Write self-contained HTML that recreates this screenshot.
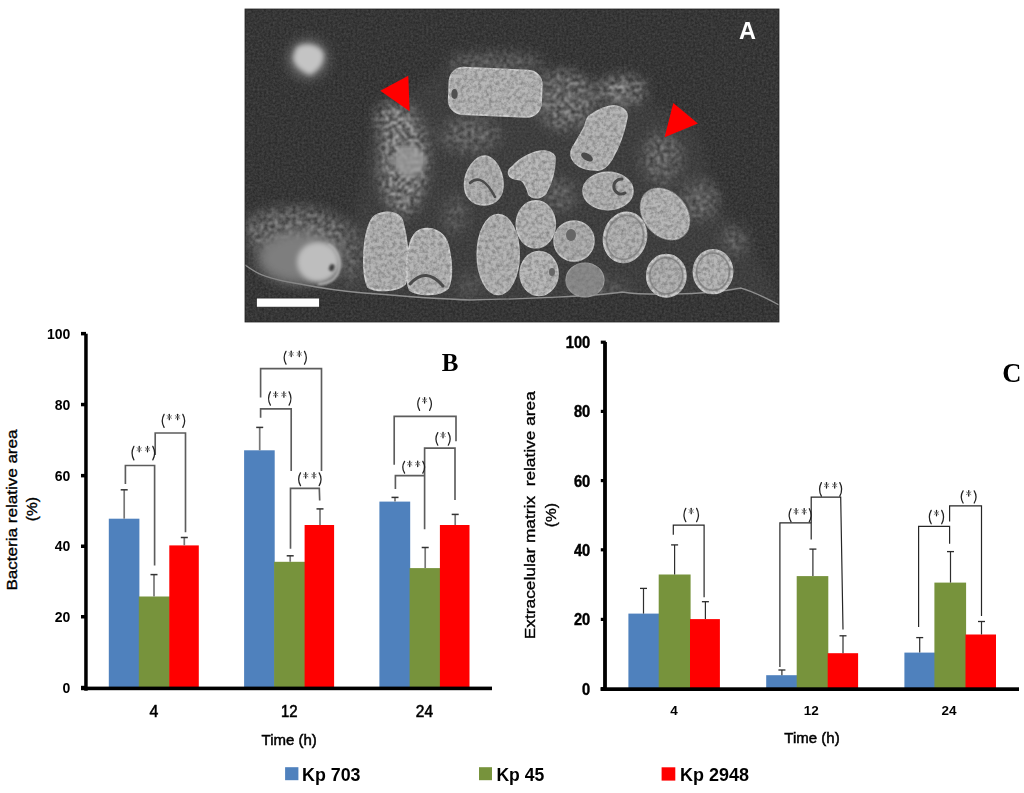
<!DOCTYPE html>
<html><head><meta charset="utf-8"><title>Figure</title><style>
html,body{margin:0;padding:0;background:#fff;width:1024px;height:793px;overflow:hidden}
svg{display:block}
text{font-family:"Liberation Sans",sans-serif;fill:#000}
.tl{font-size:14px;font-weight:bold}
.tlc{font-size:16.5px;font-weight:bold;stroke:#000;stroke-width:0.45px}
.xl{font-size:15px;font-weight:normal;stroke:#000;stroke-width:0.5px}
.xl2{font-size:15.8px;font-weight:normal;stroke:#000;stroke-width:0.55px}
.xlc{font-size:13.5px;font-weight:bold}
.yt{font-size:15.5px;font-weight:normal;stroke:#000;stroke-width:0.35px}
.sig{font-size:15px;font-weight:normal;fill:#333}
.pl{font-family:"Liberation Serif",serif;font-size:25px;font-weight:bold}
.pl2{font-family:"Liberation Serif",serif;font-size:26.5px;font-weight:bold}
.lg{font-size:18px;font-weight:bold}
</style></head>
<body>
<svg width="1024" height="793" viewBox="0 0 1024 793">
<defs>
<filter id="blur1" x="-20%" y="-20%" width="140%" height="140%"><feGaussianBlur stdDeviation="1.2"/></filter>
<filter id="blur3" x="-50%" y="-50%" width="200%" height="200%"><feGaussianBlur stdDeviation="4"/></filter>
<filter id="noise" x="0" y="0" width="100%" height="100%">
 <feTurbulence type="fractalNoise" baseFrequency="0.9" numOctaves="2" seed="3" result="t"/>
 <feColorMatrix in="t" type="matrix" values="0 0 0 0 0.23  0 0 0 0 0.23  0 0 0 0 0.23  0 0 0 0.25 0"/>
</filter>
</defs>
<rect width="1024" height="793" fill="#fff"/>
<!-- MICRO -->
<g id="micro">
<defs>
<clipPath id="mclip"><rect x="245" y="9" width="534" height="313"/></clipPath>
<filter id="spk" x="0" y="0" width="100%" height="100%" color-interpolation-filters="sRGB">
 <feTurbulence type="fractalNoise" baseFrequency="0.28" numOctaves="4" seed="7" result="t"/>
 <feColorMatrix in="t" type="matrix" values="0 0 0 0 0.74  0 0 0 0 0.74  0 0 0 0 0.74  0 0 0 2.8 -1.0" result="n"/>
 <feGaussianBlur in="n" stdDeviation="1.0"/>
</filter>
<filter id="bgn" x="0" y="0" width="100%" height="100%" color-interpolation-filters="sRGB">
 <feTurbulence type="fractalNoise" baseFrequency="0.45" numOctaves="2" seed="2" result="t"/>
 <feColorMatrix in="t" type="matrix" values="0 0 0 0 0.5  0 0 0 0 0.5  0 0 0 0 0.5  0 0 0 0.5 -0.1" result="n"/>
 <feComposite in="n" in2="SourceGraphic" operator="in" result="nn"/>
 <feMerge><feMergeNode in="SourceGraphic"/><feMergeNode in="nn"/></feMerge>
</filter>
<filter id="mb" x="-50%" y="-50%" width="200%" height="200%"><feGaussianBlur stdDeviation="7"/></filter>
<filter id="cb" x="-30%" y="-30%" width="160%" height="160%"><feGaussianBlur stdDeviation="1"/></filter>
<filter id="cb2" x="-50%" y="-50%" width="200%" height="200%"><feGaussianBlur stdDeviation="2.5"/></filter>
<filter id="cb5" x="-50%" y="-50%" width="200%" height="200%"><feGaussianBlur stdDeviation="6"/></filter>
<filter id="ctex" x="-10%" y="-10%" width="120%" height="120%" color-interpolation-filters="sRGB">
 <feTurbulence type="fractalNoise" baseFrequency="0.28" numOctaves="3" seed="11" result="t"/>
 <feColorMatrix in="t" type="matrix" values="0 0 0 0 0.45  0 0 0 0 0.45  0 0 0 0 0.45  0 0 0 1.5 -0.55" result="n"/>
 <feComposite in="n" in2="SourceAlpha" operator="in" result="nn"/>
 <feMerge><feMergeNode in="SourceGraphic"/><feMergeNode in="nn"/></feMerge>
 <feGaussianBlur stdDeviation="0.55"/>
</filter>
<mask id="zmask" maskUnits="userSpaceOnUse" x="245" y="9" width="534" height="313">
 <g filter="url(#mb)">
  <!-- left band around dim cell -->
  <ellipse cx="403" cy="160" rx="24" ry="55" fill="#fff"/>
  <ellipse cx="392" cy="120" rx="16" ry="18" fill="#fff"/>
  <!-- above top rect -->
  <ellipse cx="495" cy="62" rx="50" ry="10" fill="#888"/>
  <!-- between rect and nose -->
  <ellipse cx="565" cy="100" rx="30" ry="30" fill="#bbb"/>
  <!-- top-right cluster -->
  <ellipse cx="622" cy="90" rx="24" ry="14" fill="#fff"/>
  <!-- right of nose near arrow 2 -->
  <ellipse cx="662" cy="158" rx="20" ry="26" fill="#999"/>
  <ellipse cx="700" cy="200" rx="18" ry="20" fill="#999"/>
  <ellipse cx="735" cy="240" rx="14" ry="16" fill="#777"/>
  <!-- left blob surroundings -->
  <ellipse cx="295" cy="232" rx="52" ry="24" fill="#aaa"/>
  <ellipse cx="352" cy="255" rx="12" ry="30" fill="#777"/>
  <!-- middle under rect -->
  <ellipse cx="470" cy="135" rx="30" ry="18" fill="#888"/>
  <ellipse cx="455" cy="215" rx="12" ry="20" fill="#666"/>
  <ellipse cx="560" cy="195" rx="16" ry="16" fill="#888"/>
  <ellipse cx="600" cy="290" rx="30" ry="10" fill="#666"/>
  <ellipse cx="470" cy="285" rx="14" ry="12" fill="#555"/>
 </g>
</mask>
</defs>
<g clip-path="url(#mclip)">
<rect x="245" y="9" width="534" height="313" fill="#2a2a2a" filter="url(#bgn)"/>
<!-- haze -->
<g filter="url(#cb5)" opacity="1">
<path d="M378 118 C392 100 420 88 445 68 C470 52 520 55 550 70 C590 78 640 100 690 118 C712 150 700 190 740 235 C760 258 770 280 779 300 L779 322 L245 322 L245 215 C270 200 320 200 352 222 C362 200 368 140 378 118 Z" fill="#6a6a6a" opacity="0.17"/>
</g>
<!-- speckles -->
<rect x="245" y="9" width="534" height="313" fill="#fff" filter="url(#spk)" mask="url(#zmask)"/>
<!-- top-left glow blob -->
<ellipse cx="308" cy="59" rx="20" ry="20" fill="#6a6a6a" filter="url(#cb5)"/>
<path d="M296 48 C302 42 318 43 323 52 C326 60 320 70 310 75 C302 72 293 65 293 57 Z" fill="#c4c4c4" filter="url(#cb2)"/>
<!-- below-membrane dark region -->
<path d="M245 265 C255 272 262 278 300 284 C330 290 352 292 364 293 C400 296 440 299 470 300 C520 299 600 296 622 292 C640 295 700 296 741 288 C755 292 770 300 779 305 L779 322 L245 322 Z" fill="#2a2a2a" filter="url(#bgn)"/>
<path d="M245 265 C255 272 262 278 300 284 C330 290 352 292 364 293 C400 296 440 299 470 300 C520 299 600 296 622 292 C640 295 700 296 741 288 C755 292 770 300 779 305" fill="none" stroke="#8f8f8f" stroke-width="1.3"/>
<!-- left blob -->
<ellipse cx="300" cy="258" rx="42" ry="26" fill="#7e7e7e" filter="url(#cb5)"/>
<ellipse cx="318" cy="262" rx="21" ry="20" fill="#bebebe" filter="url(#cb2)"/>
<path d="M328 244 C338 250 342 262 338 273 C334 281 326 284 318 284" fill="none" stroke="#b4b4b4" stroke-width="2.2" filter="url(#cb)"/>
<ellipse cx="331.8" cy="267.7" rx="2.6" ry="3.6" fill="#3e3e3e" filter="url(#cb)" transform="rotate(20 331.8 267.7)"/>
<!-- dim upper cell -->
<ellipse cx="409.5" cy="161" rx="16" ry="16" fill="#8a8a8a" filter="url(#cb2)"/>
<ellipse cx="409.5" cy="161" rx="13" ry="13" fill="#fff" opacity="0.5" filter="url(#spk)"/>
<!-- cells -->
<g filter="url(#ctex)">
<rect x="449" y="69" width="92.5" height="46.5" rx="14" fill="#b7b7b7" stroke="#d2d2d2" stroke-width="1.6" transform="rotate(2.5 495 92)"/>
<path d="M485 156 C495 157 502 170 503 182 C504 196 496 205 484 205 C472 205 464 196 464.5 184 C465 170 475 156 485 156 Z" fill="#b2b2b2" stroke="#cdcdcd" stroke-width="1.5"/>
<path d="M512.7 166.4 C520 158 535 150 545 151 C552 152 556 155 555 160 C555 170 552 182 546 193 C542 198 534 200 529 195 C527 188 525 183 521 180 C516 179 510 179 508.5 174 C508 170 510 168 512.7 166.4 Z" fill="#b9b9b9" stroke="#cdcdcd" stroke-width="1.4"/>
<path d="M588.8 116.4 C597 110 608 105 616 106 C624 108 628 112 626.9 118 C625 128 620 145 612 159 C607 167 602 171 596 170 C588 170 580 168 575 163 C570 158 570 152 573 147 C577 140 582 132 584.9 126 C586 122 587 118 588.8 116.4 Z" fill="#b5b5b5" stroke="#cfcfcf" stroke-width="1.5"/>
<ellipse cx="608" cy="191" rx="25" ry="18.7" fill="#b4b4b4" stroke="#cdcdcd" stroke-width="1.5"/>
<ellipse cx="665" cy="214" rx="21" ry="28" fill="#b7b7b7" stroke="#cdcdcd" stroke-width="1.5" transform="rotate(-40 665 214)"/>
<path d="M375 216 C385 210 398 212 402 220 C408 240 410 270 405 284 C398 292 375 292 368 287 C362 275 363 245 368 228 C370 222 372 218 375 216 Z" fill="#b4b4b4" stroke="#d0d0d0" stroke-width="1.8"/>
<path d="M420 230 C432 226 443 232 447 242 C452 258 453 278 448 288 C440 296 418 296 410 290 C405 280 406 258 410 244 C412 237 415 232 420 230 Z" fill="#b6b6b6" stroke="#d2d2d2" stroke-width="1.8"/>
<ellipse cx="498.2" cy="254.5" rx="21" ry="40" fill="#b5b5b5" stroke="#cbcbcb" stroke-width="1.5"/>
<ellipse cx="535.8" cy="224.3" rx="19.5" ry="23.5" fill="#b7b7b7" stroke="#cdcdcd" stroke-width="1.5"/>
<ellipse cx="539.1" cy="273.5" rx="19" ry="22" fill="#b9b9b9" stroke="#cdcdcd" stroke-width="1.5"/>
<ellipse cx="574" cy="241" rx="20" ry="20" fill="#afafaf" stroke="#cbcbcb" stroke-width="1.5"/>
<ellipse cx="585" cy="280" rx="19" ry="17" fill="#8a8a8a" stroke="#a0a0a0" stroke-width="1.2"/>
<ellipse cx="625" cy="237.4" rx="21" ry="25" fill="#b4b4b4" stroke="#cdcdcd" stroke-width="2" transform="rotate(15 625 237.4)"/>
<ellipse cx="625" cy="237.4" rx="18.2" ry="22.2" fill="none" stroke="#8c8c8c" stroke-width="1.5" transform="rotate(15 625 237.4)"/>
<ellipse cx="666.3" cy="275.8" rx="19.3" ry="20.9" fill="#b2b2b2" stroke="#cdcdcd" stroke-width="2.2"/>
<ellipse cx="666.3" cy="275.8" rx="16.4" ry="18" fill="none" stroke="#8a8a8a" stroke-width="1.6"/>
<ellipse cx="713" cy="271.7" rx="19.3" ry="21.5" fill="#b7b7b7" stroke="#cdcdcd" stroke-width="2.2"/>
<ellipse cx="713" cy="271.7" rx="16.4" ry="18.6" fill="none" stroke="#8a8a8a" stroke-width="1.6"/>
</g>
<!-- cell dark details -->
<g fill="none" stroke="#4a4a4a" stroke-linecap="round">
<ellipse cx="454.5" cy="94" rx="3.2" ry="5" fill="#505050" stroke="none"/>
<path d="M470 183 Q482 172 495 197" stroke-width="2.5"/>
<ellipse cx="587" cy="157" rx="6.5" ry="3.5" fill="#4a4a4a" stroke="none" transform="rotate(30 587 157)"/>
<path d="M622 179 A7.5 7.5 0 1 0 625 193" stroke-width="3"/>
<path d="M410 284 Q426 266 443 286" stroke-width="3"/>
<ellipse cx="571" cy="235" rx="5" ry="6" fill="#666" stroke="none"/>
<ellipse cx="552" cy="272" rx="3" ry="4" fill="#666" stroke="none"/>
</g>
<!-- scale bar -->
<rect x="256.6" y="298.1" width="62.7" height="9" fill="#fff" stroke="#222" stroke-width="0.6"/>
<!-- arrows -->
<path d="M380.3 90.8 L408.3 75.7 L409.6 111.2 Z" fill="#ff0000"/>
<path d="M673.3 102.9 L697.9 123.5 L664.6 137.2 Z" fill="#ff0000"/>
<text x="738.9" y="38.9" style="font-family:'Liberation Sans',sans-serif;font-weight:bold;font-size:23.5px;fill:#fff">A</text>
</g>
<rect x="245" y="9" width="534" height="313" fill="none" stroke="#222" stroke-width="0.8"/>

</g>
<!-- Chart B -->
<g id="chartB">
<rect x="108.8" y="518.7" width="30.6" height="168.8" fill="#4f81bd"/>
<rect x="138.8" y="596.5" width="31.1" height="91" fill="#77933c"/>
<rect x="169.3" y="545.4" width="29.5" height="142.1" fill="#ff0000"/>
<rect x="244.1" y="450.3" width="30.6" height="237.2" fill="#4f81bd"/>
<rect x="274.1" y="561.8" width="31.1" height="125.7" fill="#77933c"/>
<rect x="304.6" y="525" width="29.5" height="162.5" fill="#ff0000"/>
<rect x="379.4" y="501.6" width="30.8" height="185.9" fill="#4f81bd"/>
<rect x="409.6" y="568.1" width="30.9" height="119.4" fill="#77933c"/>
<rect x="439.9" y="525" width="29.6" height="162.5" fill="#ff0000"/>
<g fill="none"><path d="M124.2 489.8V518.7" stroke="#777" stroke-width="1.7"/>
<path d="M120.7 489.8H127.7" stroke="#333" stroke-width="1.5"/>
<path d="M154 574.6V596.5" stroke="#777" stroke-width="1.7"/>
<path d="M150.5 574.6H157.5" stroke="#333" stroke-width="1.5"/>
<path d="M184.3 537.5V545.4" stroke="#777" stroke-width="1.7"/>
<path d="M180.8 537.5H187.8" stroke="#333" stroke-width="1.5"/>
<path d="M259.7 427.4V450.3" stroke="#777" stroke-width="1.7"/>
<path d="M256.2 427.4H263.2" stroke="#333" stroke-width="1.5"/>
<path d="M290.2 555.8V561.8" stroke="#777" stroke-width="1.7"/>
<path d="M286.7 555.8H293.7" stroke="#333" stroke-width="1.5"/>
<path d="M320 508.9V525" stroke="#777" stroke-width="1.7"/>
<path d="M316.5 508.9H323.5" stroke="#333" stroke-width="1.5"/>
<path d="M395 497.4V501.6" stroke="#777" stroke-width="1.7"/>
<path d="M391.5 497.4H398.5" stroke="#333" stroke-width="1.5"/>
<path d="M425.2 547.5V568.1" stroke="#777" stroke-width="1.7"/>
<path d="M421.7 547.5H428.7" stroke="#333" stroke-width="1.5"/>
<path d="M455.2 514.4V525" stroke="#777" stroke-width="1.7"/>
<path d="M451.7 514.4H458.7" stroke="#333" stroke-width="1.5"/></g>
<g stroke="#5c5c5c" stroke-width="1.65" fill="none"><path d="M125.4 484V465.5H154.6V565.5"/><path d="M155.2 455V433H185.5V532.2"/><path d="M260.6 397.4V368.6H321.5V471"/><path d="M260.6 417.7V408.9H291.2V471"/><path d="M290.5 548.7V488.4H319.3L319.7 500.5"/><path d="M394.2 464.7V416.3H456V441.3"/><path d="M424.6 529.2V448.1H455V500.1"/><path d="M395.4 489V475.6H424.6"/></g>
<g fill="none" stroke-linecap="round">
<path d="M133.9 446.4Q130.2 453.1 133.9 459.9M152.8 446.4Q156.5 453.1 152.8 459.9" stroke="#222" stroke-width="1.25"/>
<path d="M139.2 446.4V451.8" stroke="#1a1a1a" stroke-width="1.25"/><path d="M137 447.8L141.4 450.4M141.4 447.8L137 450.4" stroke="#777" stroke-width="0.9"/>
<path d="M147.5 446.4V451.8" stroke="#1a1a1a" stroke-width="1.25"/><path d="M145.3 447.8L149.7 450.4M149.7 447.8L145.3 450.4" stroke="#777" stroke-width="0.9"/>
<path d="M164.1 414.4Q160.4 420.9 164.1 427.4M182.8 414.4Q186.5 420.9 182.8 427.4" stroke="#222" stroke-width="1.25"/>
<path d="M169.3 414.3V419.7" stroke="#1a1a1a" stroke-width="1.25"/><path d="M167.1 415.7L171.6 418.3M171.6 415.7L167.1 418.3" stroke="#777" stroke-width="0.9"/>
<path d="M177.6 414.3V419.7" stroke="#1a1a1a" stroke-width="1.25"/><path d="M175.3 415.7L179.8 418.3M179.8 415.7L175.3 418.3" stroke="#777" stroke-width="0.9"/>
<path d="M286 351.4Q282.3 357.8 286 364.1M304.5 351.4Q308.2 357.8 304.5 364.1" stroke="#222" stroke-width="1.25"/>
<path d="M291.2 351.2V356.6" stroke="#1a1a1a" stroke-width="1.25"/><path d="M289 352.7L293.4 355.2M293.4 352.7L289 355.2" stroke="#777" stroke-width="0.9"/>
<path d="M299.3 351.2V356.6" stroke="#1a1a1a" stroke-width="1.25"/><path d="M297.1 352.7L301.5 355.2M301.5 352.7L297.1 355.2" stroke="#777" stroke-width="0.9"/>
<path d="M270.4 391.9Q266.7 398.5 270.4 405.1M289.1 391.9Q292.8 398.5 289.1 405.1" stroke="#222" stroke-width="1.25"/>
<path d="M275.6 391.8V397.2" stroke="#1a1a1a" stroke-width="1.25"/><path d="M273.4 393.3L277.9 395.8M277.9 393.3L273.4 395.8" stroke="#777" stroke-width="0.9"/>
<path d="M283.9 391.8V397.2" stroke="#1a1a1a" stroke-width="1.25"/><path d="M281.6 393.3L286.1 395.8M286.1 393.3L281.6 395.8" stroke="#777" stroke-width="0.9"/>
<path d="M300.5 472.9Q296.8 479.2 300.5 485.6M319.2 472.9Q322.9 479.2 319.2 485.6" stroke="#222" stroke-width="1.25"/>
<path d="M305.7 472.7V478.1" stroke="#1a1a1a" stroke-width="1.25"/><path d="M303.5 474.2L308 476.7M308 474.2L303.5 476.7" stroke="#777" stroke-width="0.9"/>
<path d="M314 472.7V478.1" stroke="#1a1a1a" stroke-width="1.25"/><path d="M311.7 474.2L316.2 476.7M316.2 474.2L311.7 476.7" stroke="#777" stroke-width="0.9"/>
<path d="M419.6 397.8Q415.9 404.1 419.6 410.4M429.6 397.8Q433.3 404.1 429.6 410.4" stroke="#222" stroke-width="1.25"/>
<path d="M424.6 397.6V403" stroke="#1a1a1a" stroke-width="1.25"/><path d="M422.4 399L426.8 401.6M426.8 399L422.4 401.6" stroke="#777" stroke-width="0.9"/>
<path d="M437.8 432.6Q434.1 438.9 437.8 445.2M448.3 432.6Q452 438.9 448.3 445.2" stroke="#222" stroke-width="1.25"/>
<path d="M443 432.4V437.8" stroke="#1a1a1a" stroke-width="1.25"/><path d="M440.8 433.8L445.3 436.4M445.3 433.8L440.8 436.4" stroke="#777" stroke-width="0.9"/>
<path d="M404.6 461.4Q400.9 467.3 404.6 473.2M422.8 461.4Q426.5 467.3 422.8 473.2" stroke="#222" stroke-width="1.25"/>
<path d="M409.7 461.1V466.5" stroke="#1a1a1a" stroke-width="1.25"/><path d="M407.5 462.5L411.9 465M411.9 462.5L407.5 465" stroke="#777" stroke-width="0.9"/>
<path d="M417.7 461.1V466.5" stroke="#1a1a1a" stroke-width="1.25"/><path d="M415.5 462.5L419.9 465M419.9 462.5L415.5 465" stroke="#777" stroke-width="0.9"/>
</g>
<rect x="84.2" y="333.7" width="3.5" height="357" fill="#000"/>
<rect x="81" y="686.6" width="411" height="3.6" fill="#000"/>
<rect x="81" y="331.9" width="5" height="3.5" fill="#000"/><rect x="81" y="402.8" width="5" height="3.5" fill="#000"/><rect x="81" y="473.9" width="5" height="3.5" fill="#000"/><rect x="81" y="544.5" width="5" height="3.5" fill="#000"/><rect x="81" y="615" width="5" height="3.5" fill="#000"/><rect x="81" y="685.8" width="5" height="3.5" fill="#000"/>
<text x="70.3" y="338.7" class="tl" text-anchor="end">100</text><text x="70.3" y="409.5" class="tl" text-anchor="end">80</text><text x="70.3" y="480.6" class="tl" text-anchor="end">60</text><text x="70.3" y="551.2" class="tl" text-anchor="end">40</text><text x="70.3" y="621.7" class="tl" text-anchor="end">20</text><text x="70.3" y="692.5" class="tl" text-anchor="end">0</text>
<text x="154" y="717.3" class="xl2" text-anchor="middle">4</text>
<text x="289.3" y="717.3" class="xl2" text-anchor="middle" textLength="16.6" lengthAdjust="spacingAndGlyphs">12</text>
<text x="424.4" y="717.3" class="xl2" text-anchor="middle" textLength="17.2" lengthAdjust="spacingAndGlyphs">24</text>
<text x="289.2" y="745" class="xl" text-anchor="middle">Time (h)</text>
<text transform="translate(16.8,510) rotate(-90)" class="yt" text-anchor="middle" textLength="161" lengthAdjust="spacingAndGlyphs">Bacteria relative area</text>
<text transform="translate(37.3,509.2) rotate(-90)" class="yt" text-anchor="middle">(%)</text>
<text x="441.8" y="370.8" class="pl">B</text>
</g>
<!-- Chart C -->
<g id="chartC">
<rect x="628.4" y="613.6" width="30.9" height="75.2" fill="#4f81bd"/>
<rect x="658.7" y="574.5" width="31.9" height="114.3" fill="#77933c"/>
<rect x="690" y="619.1" width="29.9" height="69.7" fill="#ff0000"/>
<rect x="766.2" y="675.2" width="31.1" height="13.6" fill="#4f81bd"/>
<rect x="796.7" y="576.1" width="31.6" height="112.7" fill="#77933c"/>
<rect x="827.7" y="653.2" width="30.4" height="35.6" fill="#ff0000"/>
<rect x="904.4" y="652.6" width="30.6" height="36.2" fill="#4f81bd"/>
<rect x="934.4" y="582.6" width="31.7" height="106.2" fill="#77933c"/>
<rect x="965.5" y="634.5" width="30.5" height="54.3" fill="#ff0000"/>
<g fill="none"><path d="M643.5 588.4V613.6" stroke="#2e2e2e" stroke-width="1.2"/>
<path d="M640 588.4H647" stroke="#2a2a2a" stroke-width="1.3"/>
<path d="M674.6 544.9V574.5" stroke="#2e2e2e" stroke-width="1.2"/>
<path d="M671.1 544.9H678.1" stroke="#2a2a2a" stroke-width="1.3"/>
<path d="M705.4 601.7V619.1" stroke="#2e2e2e" stroke-width="1.2"/>
<path d="M701.9 601.7H708.9" stroke="#2a2a2a" stroke-width="1.3"/>
<path d="M781.9 670V675.2" stroke="#2e2e2e" stroke-width="1.2"/>
<path d="M778.4 670H785.4" stroke="#2a2a2a" stroke-width="1.3"/>
<path d="M812.9 549.1V576.1" stroke="#2e2e2e" stroke-width="1.2"/>
<path d="M809.4 549.1H816.4" stroke="#2a2a2a" stroke-width="1.3"/>
<path d="M843 635.8V653.2" stroke="#2e2e2e" stroke-width="1.2"/>
<path d="M839.5 635.8H846.5" stroke="#2a2a2a" stroke-width="1.3"/>
<path d="M919.7 637.6V652.6" stroke="#2e2e2e" stroke-width="1.2"/>
<path d="M916.2 637.6H923.2" stroke="#2a2a2a" stroke-width="1.3"/>
<path d="M950.5 551.6V582.6" stroke="#2e2e2e" stroke-width="1.2"/>
<path d="M947 551.6H954" stroke="#2a2a2a" stroke-width="1.3"/>
<path d="M981.5 621.5V634.5" stroke="#2e2e2e" stroke-width="1.2"/>
<path d="M978 621.5H985" stroke="#2a2a2a" stroke-width="1.3"/></g>
<g stroke="#262626" stroke-width="1.2" fill="none"><path d="M673.3 534.8V525.2H704.1V597.2"/><path d="M779.9 667.1V522.8H811.2V539.6"/><path d="M811.2 522.8V497.2H840.7L843 629.4"/><path d="M918.6 627V526.3H949.6V543.8"/><path d="M949.6 521.6V505.8H981.5V616"/></g>
<g fill="none" stroke-linecap="round">
<path d="M685.8 508.4Q682.1 515 685.8 521.6M696.6 508.4Q700.3 515 696.6 521.6" stroke="#222" stroke-width="1.25"/>
<path d="M691.2 508.3V513.7" stroke="#1a1a1a" stroke-width="1.25"/><path d="M689 509.8L693.4 512.3M693.4 509.8L689 512.3" stroke="#777" stroke-width="0.9"/>
<path d="M791 508.7Q787.3 515.1 791 521.6M809.3 508.7Q813 515.1 809.3 521.6" stroke="#222" stroke-width="1.25"/>
<path d="M796.1 508.6V514" stroke="#1a1a1a" stroke-width="1.25"/><path d="M793.9 510L798.3 512.6M798.3 510L793.9 512.6" stroke="#777" stroke-width="0.9"/>
<path d="M804.2 508.6V514" stroke="#1a1a1a" stroke-width="1.25"/><path d="M802 510L806.4 512.6M806.4 510L802 512.6" stroke="#777" stroke-width="0.9"/>
<path d="M821.4 482.6Q817.7 489.3 821.4 496.1M839.8 482.6Q843.5 489.3 839.8 496.1" stroke="#222" stroke-width="1.25"/>
<path d="M826.5 482.6V488" stroke="#1a1a1a" stroke-width="1.25"/><path d="M824.3 484L828.8 486.6M828.8 484L824.3 486.6" stroke="#777" stroke-width="0.9"/>
<path d="M834.7 482.6V488" stroke="#1a1a1a" stroke-width="1.25"/><path d="M832.4 484L836.9 486.6M836.9 484L832.4 486.6" stroke="#777" stroke-width="0.9"/>
<path d="M931.2 510.4Q927.5 517.1 931.2 523.8M941.7 510.4Q945.4 517.1 941.7 523.8" stroke="#222" stroke-width="1.25"/>
<path d="M936.5 510.4V515.8" stroke="#1a1a1a" stroke-width="1.25"/><path d="M934.2 511.8L938.7 514.4M938.7 511.8L934.2 514.4" stroke="#777" stroke-width="0.9"/>
<path d="M963.1 490.9Q959.4 496.9 963.1 503M974.2 490.9Q977.9 496.9 974.2 503" stroke="#222" stroke-width="1.25"/>
<path d="M968.7 490.6V496" stroke="#1a1a1a" stroke-width="1.25"/><path d="M966.4 492L970.9 494.6M970.9 492L966.4 494.6" stroke="#777" stroke-width="0.9"/>
</g>
<rect x="603.1" y="342" width="3.8" height="349" fill="#000"/>
<rect x="600.6" y="687.3" width="418.4" height="3.7" fill="#000"/>
<rect x="600.8" y="340.6" width="5" height="3.2" fill="#000"/><rect x="600.8" y="409.8" width="5" height="3.2" fill="#000"/><rect x="600.8" y="479" width="5" height="3.2" fill="#000"/><rect x="600.8" y="548.2" width="5" height="3.2" fill="#000"/><rect x="600.8" y="617.8" width="5" height="3.2" fill="#000"/><rect x="600.8" y="687.1" width="5" height="3.2" fill="#000"/>
<g transform="translate(590.3 0) scale(0.89 1) translate(-590.3 0)"><text x="590.3" y="348.2" class="tlc" text-anchor="end">100</text><text x="590.3" y="417.4" class="tlc" text-anchor="end">80</text><text x="590.3" y="486.6" class="tlc" text-anchor="end">60</text><text x="590.3" y="555.8" class="tlc" text-anchor="end">40</text><text x="590.3" y="625.4" class="tlc" text-anchor="end">20</text><text x="590.3" y="694.7" class="tlc" text-anchor="end">0</text></g>
<text x="674" y="715.2" class="xlc" text-anchor="middle">4</text>
<text x="811.3" y="715.2" class="xlc" text-anchor="middle">12</text>
<text x="948.9" y="715.2" class="xlc" text-anchor="middle">24</text>
<text x="812" y="743" class="xl" text-anchor="middle">Time (h)</text>
<text transform="translate(535.4,515.2) rotate(-90)" class="yt" text-anchor="middle" textLength="248" lengthAdjust="spacingAndGlyphs" xml:space="preserve">Extracelular matrix  relative area</text>
<text transform="translate(555.5,515.2) rotate(-90)" class="yt" text-anchor="middle">(%)</text>
<text x="1002.3" y="381.5" class="pl2">C</text>
</g>
<!-- Legend -->
<rect x="285.1" y="767.2" width="13.3" height="13" fill="#4f81bd"/>
<rect x="479" y="767.2" width="13" height="13" fill="#77933c"/>
<rect x="661.6" y="767.3" width="13.7" height="13.3" fill="#ff0000"/>
<text x="302" y="780.6" class="lg" textLength="58.5" lengthAdjust="spacingAndGlyphs">Kp 703</text>
<text x="496.4" y="780.6" class="lg" textLength="47.9" lengthAdjust="spacingAndGlyphs">Kp 45</text>
<text x="680" y="780.6" class="lg" textLength="68.9" lengthAdjust="spacingAndGlyphs">Kp 2948</text>
</svg>
</body></html>
